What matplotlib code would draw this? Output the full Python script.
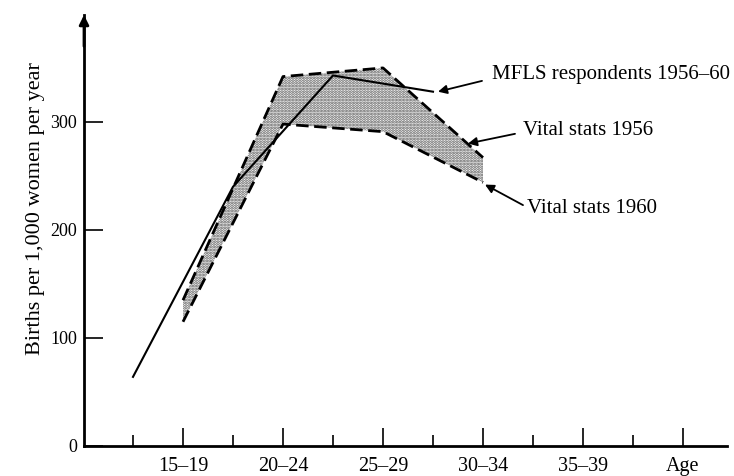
import matplotlib
matplotlib.use("Agg")
import matplotlib.pyplot as plt
from matplotlib.ticker import FixedLocator

plt.rcParams['font.family'] = ['Liberation Serif', 'DejaVu Serif']
plt.rcParams['hatch.linewidth'] = 1.4

# Age-group midpoints (years) and their labels
group_mid = [17.5, 22.5, 27.5, 32.5]
vital_1956 = [135, 342, 350, 267]
vital_1960 = [115, 298, 291, 244]

# MFLS respondents, plotted at exact ages
mfls_age = [15, 20, 25, 30]
mfls_rate = [64, 240, 343, 328]

tick_major = [17.5, 22.5, 27.5, 32.5, 37.5, 42.5]
tick_labels = ['15–19', '20–24', '25–29', '30–34', '35–39', 'Age']
tick_minor = [15, 20, 25, 30, 35, 40]
y_ticks = [0, 100, 200, 300]

fig = plt.figure(figsize=(7.34, 4.76), dpi=100)
ax = fig.add_axes([84 / 734, 30 / 476, 643 / 734, 431 / 476])
ax.set_xlim(12.55, 44.7)
ax.set_ylim(0, 399)

# stippled band between the two vital-statistics curves
ax.fill_between(group_mid, vital_1956, vital_1960, facecolor='white',
                hatch='......', edgecolor='#555555', linewidth=0)

ax.plot(group_mid, vital_1956, color='black', lw=2.0, dashes=(4.5, 2))
ax.plot(group_mid, vital_1960, color='black', lw=2.0, dashes=(4.5, 2))
ax.plot(mfls_age, mfls_rate, color='black', lw=1.5)

for s in ['top', 'right']:
    ax.spines[s].set_visible(False)
ax.spines['left'].set_linewidth(2)
ax.spines['bottom'].set_linewidth(2)

# arrowhead on the vertical axis
ax.annotate('', xy=(12.55, 399), xytext=(12.55, 370),
            arrowprops=dict(arrowstyle='-|>', color='black', lw=2,
                            mutation_scale=14, shrinkA=0, shrinkB=0))

ax.set_yticks(y_ticks)
ax.set_yticklabels([str(v) for v in y_ticks])
ax.tick_params(axis='y', direction='in', length=14, width=1.2,
               labelsize=13, pad=5)
ax.xaxis.set_major_locator(FixedLocator(tick_major))
ax.set_xticklabels(tick_labels)
ax.xaxis.set_minor_locator(FixedLocator(tick_minor))
ax.tick_params(axis='x', which='major', direction='in', length=13,
               width=1.2, labelsize=14.5, pad=8)
ax.tick_params(axis='x', which='minor', direction='in', length=8,
               width=1.2)

ax.set_ylabel('Births per 1,000 women per year', fontsize=16)
ax.yaxis.set_label_coords(-0.06, 0.55)

# callouts: label text plus a separate pointer arrow
arrow = dict(arrowstyle='-|>', color='black', lw=1.3, mutation_scale=13,
             shrinkA=0, shrinkB=0)
ax.text(32.95, 343.5, 'MFLS respondents 1956–60', fontsize=15,
        va='center', ha='left')
ax.annotate('', xy=(30.25, 328), xytext=(32.45, 338), arrowprops=arrow)
ax.text(34.5, 292.5, 'Vital stats 1956', fontsize=15, va='center', ha='left')
ax.annotate('', xy=(31.75, 280), xytext=(34.1, 289), arrowprops=arrow)
ax.text(34.7, 220, 'Vital stats 1960', fontsize=15, va='center', ha='left')
ax.annotate('', xy=(32.6, 242), xytext=(34.5, 223), arrowprops=arrow)

fig.savefig('out.png', dpi=100)
